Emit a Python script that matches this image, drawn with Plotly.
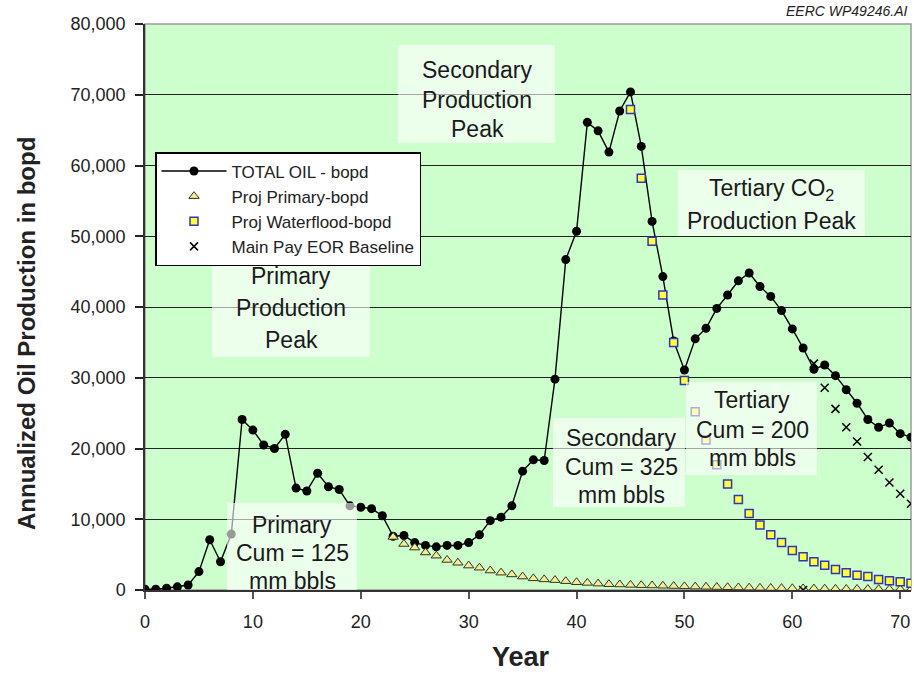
import plotly.graph_objects as go

# ---------------- data ----------------
years_total = list(range(0, 72))
total_oil = [100, 100, 250, 450, 700, 2600, 7100, 4000, 7900, 24100,
             22600, 20500, 20000, 22000, 14400, 14000, 16500, 14600, 14200, 11900,
             11700, 11500, 10500, 7600, 7700, 6700, 6300, 6100, 6300, 6300,
             6700, 7800, 9800, 10300, 11900, 16800, 18400, 18300, 29800, 46700,
             50700, 66100, 64900, 61900, 67700, 70400, 62700, 52100, 44300, 35200,
             31100, 35500, 37000, 39800, 41700, 43700, 44800, 42900, 41500, 39500,
             36900, 34200, 31200, 31800, 30300, 28300, 26400, 24100, 23000, 23600,
             22100, 21600]

years_primary = list(range(23, 72))
proj_primary = [7500, 6500, 6000, 5300, 4850, 4250, 3850, 3450, 3150, 2750,
                2450, 2200, 1900, 1650, 1500, 1400, 1250, 1100, 1000, 900,
                820, 780, 720, 680, 640, 600, 560, 520, 480, 450,
                420, 390, 360, 330, 300, 280, 260, 240, 220, 200,
                180, 160, 150, 140, 130, 120, 110, 100, 90]

years_wf = list(range(45, 72))
proj_waterflood = [67900, 58200, 49300, 41700, 35000, 29600, 25200, 21200, 17700, 15000,
                   12800, 10800, 9200, 7800, 6700, 5600, 4700, 4000, 3500, 2900,
                   2450, 2100, 1900, 1500, 1300, 1150, 950]

years_eor = list(range(61, 72))
eor_baseline = [0, 32000, 28600, 25600, 23000, 21000, 18800, 17000, 15200, 13600, 12200]

x_ticks = [0, 10, 20, 30, 40, 50, 60, 70]
y_ticks = [0, 10000, 20000, 30000, 40000, 50000, 60000, 70000, 80000]

# ---------------- layout helpers (pixel -> paper) ----------------
L, R, T, B = 145, 911, 24, 590
XMAX, YMAX = 71, 80000


def PX(px):
    return (px - L) / (R - L)


def PY(py):
    return (B - py) / (B - T)


FONT = "Liberation Sans, Arial, sans-serif"

fig = go.Figure()
fig.add_trace(go.Scatter(
    x=years_total, y=total_oil, mode="lines+markers", name="TOTAL OIL - bopd",
    line=dict(color="black", width=1.4),
    marker=dict(symbol="circle", size=9, color="black")))
fig.add_trace(go.Scatter(
    x=years_primary, y=proj_primary, mode="markers", name="Proj Primary-bopd",
    marker=dict(symbol="triangle-up", size=9, color="#f2ec96",
                line=dict(color="#333322", width=1))))
fig.add_trace(go.Scatter(
    x=years_wf, y=proj_waterflood, mode="markers", name="Proj Waterflood-bopd",
    marker=dict(symbol="square", size=8, color="#ffff33",
                line=dict(color="#3333bb", width=1.5))))
fig.add_trace(go.Scatter(
    x=years_eor, y=eor_baseline, mode="markers", name="Main Pay EOR Baseline",
    marker=dict(symbol="x-thin", size=8, color="black",
                line=dict(color="black", width=1.5))))

shapes = []
annotations = []

# text boxes: (left, top, right, bottom) in px, x center px, list of (line text, y center px)
boxes = [
    ((212, 262, 370, 357), 291, [("Primary", 276), ("Production", 308), ("Peak", 340)]),
    ((398, 45, 555, 143), 477, [("Secondary", 70), ("Production", 100), ("Peak", 129)]),
    ((678, 170, 865, 236), 771, [("Tertiary CO<sub>2</sub>", 190), ("Production Peak", 221)]),
    ((227, 503, 357, 590), 292, [("Primary", 525), ("Cum = 125", 553), ("mm bbls", 581)]),
    ((553, 418, 685, 507), 621, [("Secondary", 438), ("Cum = 325", 467), ("mm bbls", 495)]),
    ((686, 382, 817, 475), 752, [("Tertiary", 400), ("Cum = 200", 430), ("mm bbls", 458)]),
]
for (l, t, r, b), xc, lines in boxes:
    shapes.append(dict(type="rect", xref="paper", yref="paper", x0=PX(l), x1=PX(r), y0=PY(b), y1=PY(t),
                       fillcolor="rgba(255,255,255,0.6)", line=dict(width=0), layer="above"))
    for txt, yc in lines:
        annotations.append(dict(x=PX(xc), y=PY(yc), xref="paper", yref="paper", text=txt,
                                showarrow=False, xanchor="center", yanchor="middle",
                                font=dict(family=FONT, size=23, color="#1a1a1a")))

# plot border (grey)
shapes.append(dict(type="rect", xref="paper", yref="paper", x0=0, x1=1, y0=0, y1=1,
                   line=dict(color="#9a9a9a", width=1.5), layer="below"))

annotations.append(dict(x=PX(909), y=PY(11), xref="paper", yref="paper",
                        text="<i>EERC WP49246.AI</i>", showarrow=False,
                        xanchor="right", yanchor="middle",
                        font=dict(family=FONT, size=14, color="#222")))

# axis titles
annotations.append(dict(x=PX(26), y=PY(334), xref="paper", yref="paper",
                        text="<b>Annualized Oil Production in bopd</b>",
                        textangle=-90, showarrow=False, xanchor="center", yanchor="middle",
                        font=dict(family=FONT, size=24, color="#222")))
annotations.append(dict(x=PX(521), y=PY(657), xref="paper", yref="paper", text="<b>Year</b>",
                        showarrow=False, xanchor="center", yanchor="middle",
                        font=dict(family=FONT, size=27, color="#222")))

fig.update_layout(
    width=914, height=676,
    margin=dict(l=L, r=914 - R, t=T, b=676 - B, pad=0),
    paper_bgcolor="white", plot_bgcolor="#ccffcc",
    font=dict(family=FONT, color="#333"),
    showlegend=True,
    legend=dict(x=PX(155), y=PY(152), xanchor="left", yanchor="top",
                bgcolor="white", bordercolor="black", borderwidth=1.5,
                font=dict(family=FONT, size=17, color="#222"),
                tracegroupgap=0, itemwidth=65),
    shapes=shapes, annotations=annotations,
)
fig.update_xaxes(range=[0, XMAX], tickvals=x_ticks, ticktext=[str(v) for v in x_ticks],
                 showgrid=False, zeroline=False, showline=True, linecolor="#333", linewidth=1.5,
                 ticks="outside", ticklen=7, tickcolor="#555", tickwidth=1.5,
                 tickfont=dict(family=FONT, size=18, color="#222"), ticklabelstandoff=8)
fig.update_yaxes(range=[0, YMAX], tickvals=y_ticks, tickformat=",d",
                 showgrid=True, gridcolor="#222", gridwidth=1.2, zeroline=False,
                 showline=True, linecolor="#333", linewidth=1.5,
                 ticks="outside", ticklen=8, tickcolor="#222", tickwidth=1.5,
                 tickfont=dict(family=FONT, size=18, color="#222"), ticklabelstandoff=6)

fig.write_html("out.html", config={"displayModeBar": False},
               post_script="document.body.style.margin='0';document.body.style.padding='0';")
